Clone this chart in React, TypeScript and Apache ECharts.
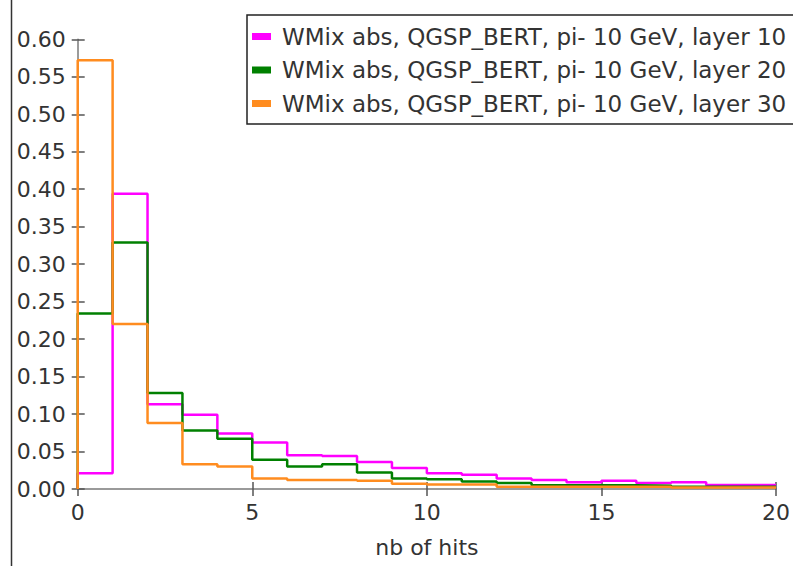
import React, { useEffect, useRef } from "react";
import * as echarts from "echarts";

const binEdges = [0, 1, 2, 3, 4, 5, 6, 7, 8, 9, 10, 11, 12, 13, 14, 15, 16, 17, 18, 19, 20];
const seriesNames = [
  "WMix abs, QGSP_BERT, pi- 10 GeV, layer 10",
  "WMix abs, QGSP_BERT, pi- 10 GeV, layer 20",
  "WMix abs, QGSP_BERT, pi- 10 GeV, layer 30",
];
const layer10 = [0.021, 0.394, 0.113, 0.099, 0.074, 0.062, 0.045, 0.044, 0.036, 0.028, 0.021, 0.019, 0.014, 0.012, 0.009, 0.011, 0.008, 0.009, 0.0055, 0.0055];
const layer20 = [0.234, 0.329, 0.128, 0.078, 0.067, 0.039, 0.030, 0.033, 0.022, 0.014, 0.013, 0.010, 0.008, 0.005, 0.005, 0.005, 0.0045, 0.003, 0.003, 0.003];
const layer30 = [0.572, 0.220, 0.088, 0.033, 0.030, 0.014, 0.012, 0.012, 0.011, 0.007, 0.006, 0.006, 0.003, 0.003, 0.003, 0.003, 0.003, 0.002, 0.002, 0.002];
const seriesColors = ["#ff00ff", "#008000", "#ff8c1f"];

function histPoints(values: number[]): number[][] {
  const pts: number[][] = [[binEdges[0], 0]];
  values.forEach((v, i) => pts.push([binEdges[i], v]));
  pts.push([binEdges[values.length], values[values.length - 1]]);
  return pts;
}

export default function App() {
  const ref = useRef<HTMLDivElement>(null);
  useEffect(() => {
    if (!ref.current) return;
    const chart = echarts.init(ref.current, undefined, { renderer: "svg" });
    const font = "DejaVu Sans";
    const axisColor = "#7a7a7a";
    const textColor = "#333333";
    const allValues = [layer10, layer20, layer30];
    const option: any = {
      animation: false,
      textStyle: { fontFamily: font },
      grid: { left: 77.7, right: 15.3, top: 39.3, bottom: 77 },
      legend: {
        orient: "vertical",
        left: 247,
        top: 17.5,
        data: seriesNames,
        icon: "rect",
        itemWidth: 19,
        itemHeight: 7,
        itemGap: 7.5,
        padding: [6, 0, 6, 5],
        borderWidth: 0,
        z: 10,
        textStyle: { fontSize: 23, color: textColor, lineHeight: 26, fontFamily: font, padding: [0, 0, 0, 6] },
      },
      xAxis: [
        {
          type: "value",
          min: 0,
          max: 20,
          interval: 5,
          position: "bottom",
          axisLine: { lineStyle: { color: axisColor, width: 1.5 } },
          axisTick: { length: 7, lineStyle: { color: "#555555", width: 1.5 } },
          axisLabel: { fontSize: 22, color: textColor, margin: 12, fontFamily: font },
          splitLine: { show: false },
          name: "nb of hits",
          nameLocation: "middle",
          nameGap: 47,
          nameTextStyle: { fontSize: 22, color: textColor, fontFamily: font },
        },
        {
          type: "value",
          min: 0,
          max: 20,
          interval: 5,
          position: "bottom",
          axisLine: { show: false },
          axisTick: { inside: true, length: 7, lineStyle: { color: "#555555", width: 1.5 } },
          axisLabel: { show: false },
          splitLine: { show: false },
        },
      ],
      yAxis: [
        {
          type: "value",
          min: 0,
          max: 0.6,
          interval: 0.05,
          position: "left",
          axisLine: { show: true, lineStyle: { color: axisColor, width: 1.5 } },
          axisTick: { show: true, length: 6, lineStyle: { color: "#555555", width: 1.5 } },
          axisLabel: {
            fontSize: 22,
            color: textColor,
            margin: 12,
            fontFamily: font,
            formatter: (v: number) => v.toFixed(2),
          },
          splitLine: { show: false },
        },
        {
          type: "value",
          min: 0,
          max: 0.6,
          interval: 0.05,
          position: "left",
          axisLine: { show: false },
          axisTick: { show: true, inside: true, length: 7, lineStyle: { color: "#555555", width: 1.5 } },
          axisLabel: { show: false },
          splitLine: { show: false },
        },
      ],
      graphic: [
        {
          type: "line",
          shape: { x1: 11.5, y1: 0, x2: 11.5, y2: 566 },
          style: { stroke: "#333333", lineWidth: 1.5 },
          z: 100,
        },
        {
          type: "rect",
          shape: { x: 247, y: 15, width: 600, height: 109 },
          style: { fill: "#ffffff", stroke: "#222222", lineWidth: 1.5 },
          z: 5,
        },
      ],
      series: seriesNames.map((name, i) => ({
        name,
        type: "line",
        step: "end",
        symbol: "none",
        xAxisIndex: 0,
        yAxisIndex: 0,
        color: seriesColors[i],
        lineStyle: { color: seriesColors[i], width: 2.5 },
        itemStyle: { color: seriesColors[i] },
        data: histPoints(allValues[i]),
        z: 2 + i,
      })),
    };
    chart.setOption(option);
    return () => chart.dispose();
  }, []);
  return (
    <div
      ref={ref}
      style={{ position: "fixed", left: 0, top: 0, width: 793, height: 566, background: "#ffffff" }}
    />
  );
}
